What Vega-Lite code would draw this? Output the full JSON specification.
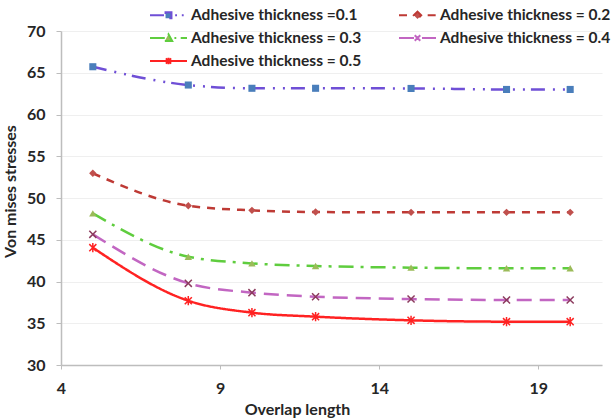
{
  "$schema": "https://vega.github.io/schema/vega-lite/v6.json",
  "width": 541,
  "height": 334,
  "autosize": {"type": "none"},
  "padding": {"left": 61, "top": 31, "right": 13, "bottom": 55},
  "background": "white",
  "config": {
    "view": {"stroke": null},
    "font": "Lato"
  },
  "data": {
    "values": [
      {"series": "Adhesive thickness =0.1", "overlap": 5, "stress": 65.72},
      {"series": "Adhesive thickness =0.1", "overlap": 8, "stress": 63.53},
      {"series": "Adhesive thickness =0.1", "overlap": 10, "stress": 63.14},
      {"series": "Adhesive thickness =0.1", "overlap": 12, "stress": 63.14},
      {"series": "Adhesive thickness =0.1", "overlap": 15, "stress": 63.12},
      {"series": "Adhesive thickness =0.1", "overlap": 18, "stress": 63.0},
      {"series": "Adhesive thickness =0.1", "overlap": 20, "stress": 63.0},
      {"series": "Adhesive thickness = 0.2", "overlap": 5, "stress": 52.96},
      {"series": "Adhesive thickness = 0.2", "overlap": 8, "stress": 49.08},
      {"series": "Adhesive thickness = 0.2", "overlap": 10, "stress": 48.52},
      {"series": "Adhesive thickness = 0.2", "overlap": 12, "stress": 48.32},
      {"series": "Adhesive thickness = 0.2", "overlap": 15, "stress": 48.28},
      {"series": "Adhesive thickness = 0.2", "overlap": 18, "stress": 48.28},
      {"series": "Adhesive thickness = 0.2", "overlap": 20, "stress": 48.28},
      {"series": "Adhesive thickness = 0.3", "overlap": 5, "stress": 48.16},
      {"series": "Adhesive thickness = 0.3", "overlap": 8, "stress": 42.97},
      {"series": "Adhesive thickness = 0.3", "overlap": 10, "stress": 42.17},
      {"series": "Adhesive thickness = 0.3", "overlap": 12, "stress": 41.86},
      {"series": "Adhesive thickness = 0.3", "overlap": 15, "stress": 41.66},
      {"series": "Adhesive thickness = 0.3", "overlap": 18, "stress": 41.58},
      {"series": "Adhesive thickness = 0.3", "overlap": 20, "stress": 41.58},
      {"series": "Adhesive thickness = 0.4", "overlap": 5, "stress": 45.65},
      {"series": "Adhesive thickness = 0.4", "overlap": 8, "stress": 39.78},
      {"series": "Adhesive thickness = 0.4", "overlap": 10, "stress": 38.66},
      {"series": "Adhesive thickness = 0.4", "overlap": 12, "stress": 38.18},
      {"series": "Adhesive thickness = 0.4", "overlap": 15, "stress": 37.9},
      {"series": "Adhesive thickness = 0.4", "overlap": 18, "stress": 37.78},
      {"series": "Adhesive thickness = 0.4", "overlap": 20, "stress": 37.78},
      {"series": "Adhesive thickness = 0.5", "overlap": 5, "stress": 44.05},
      {"series": "Adhesive thickness = 0.5", "overlap": 8, "stress": 37.7},
      {"series": "Adhesive thickness = 0.5", "overlap": 10, "stress": 36.27},
      {"series": "Adhesive thickness = 0.5", "overlap": 12, "stress": 35.79},
      {"series": "Adhesive thickness = 0.5", "overlap": 15, "stress": 35.35},
      {"series": "Adhesive thickness = 0.5", "overlap": 18, "stress": 35.19},
      {"series": "Adhesive thickness = 0.5", "overlap": 20, "stress": 35.19}
    ]
  },
  "encoding": {
    "x": {
      "field": "overlap",
      "type": "quantitative",
      "scale": {"domain": [4, 21], "nice": false, "zero": false},
      "axis": {
        "title": "Overlap length",
        "values": [4, 9, 14, 19],
        "grid": false,
        "domainColor": "#bdbdbd",
        "domainWidth": 1.5,
        "tickColor": "#bdbdbd",
        "tickSize": 4,
        "labelPadding": 11,
        "labelFont": "Lato",
        "labelFontSize": 16,
        "labelFontWeight": "bold",
        "labelColor": "#262626",
        "labelFlush": false,
        "titleFont": "Lato",
        "titleFontSize": 16,
        "titleFontWeight": "bold",
        "titleColor": "#262626",
        "titleX": 236,
        "titleY": 44,
        "titleBaseline": "middle",
        "titleAlign": "center"
      }
    },
    "y": {
      "field": "stress",
      "type": "quantitative",
      "scale": {"domain": [30, 70], "nice": false, "zero": false},
      "axis": {
        "title": "Von mises stresses",
        "values": [30, 35, 40, 45, 50, 55, 60, 65, 70],
        "grid": true,
        "gridColor": "#efefef",
        "gridWidth": 1,
        "domainColor": "#bdbdbd",
        "domainWidth": 1.5,
        "tickColor": "#bdbdbd",
        "tickSize": 5,
        "labelPadding": 11,
        "labelFont": "Lato",
        "labelFontSize": 16,
        "labelFontWeight": "bold",
        "labelColor": "#262626",
        "labelFlush": false,
        "titleFont": "Lato",
        "titleFontSize": 16,
        "titleFontWeight": "bold",
        "titleColor": "#262626",
        "titleX": -51,
        "titleY": 160,
        "titleAngle": -90,
        "titleBaseline": "middle",
        "titleAlign": "center"
      }
    }
  },
  "layer": [
    {
      "mark": {"type": "line", "interpolate": "monotone", "strokeWidth": 2.5},
      "encoding": {
        "color": {
          "field": "series",
          "type": "nominal",
          "scale": {
            "domain": ["Adhesive thickness =0.1", "Adhesive thickness = 0.2", "Adhesive thickness = 0.3", "Adhesive thickness = 0.4", "Adhesive thickness = 0.5"],
            "range": ["#6f4fd6", "#be3a35", "#5fcd3e", "#c266c2", "#ff2222"]
          },
          "legend": {
            "title": null,
            "orient": "none",
            "direction": "horizontal",
            "legendX": 88,
            "legendY": -24,
            "columns": 2,
            "columnPadding": 36,
            "rowPadding": 6,
            "clipHeight": 16,
            "padding": 0,
            "symbolSize": 1369,
            "symbolStrokeWidth": 2,
            "symbolOffset": 0,
            "labelOffset": 3,
            "labelFont": "Lato",
            "labelFontSize": 15.5,
            "labelFontWeight": "bold",
            "labelColor": "#262626",
            "labelLimit": 300,
            "encode": {
              "symbols": {
                "update": {
                  "shape": {"signal": "datum.value == 'Adhesive thickness =0.1' ? 'M-1,0L-0.16,0M0.36,0L0.46,0M0.72,0L0.82,0M-0.16,-0.16L0.16,-0.16L0.16,0.16L-0.16,0.16Z' : datum.value == 'Adhesive thickness = 0.2' ? 'M-1,0L-0.55,0M0.55,0L1,0M0,-0.2L0.2,0L0,0.2L-0.2,0Z' : datum.value == 'Adhesive thickness = 0.3' ? 'M-1,0L-0.2,0M0.32,0L0.42,0M0.66,0L1,0M0,-0.2L0.2,0.16L-0.2,0.16Z' : datum.value == 'Adhesive thickness = 0.4' ? 'M-1,0L1,0M-0.15,-0.15L0.15,0.15M-0.15,0.15L0.15,-0.15' : 'M-1,0L1,0M-0.14,-0.14L0.14,0.14M-0.14,0.14L0.14,-0.14M0,-0.18L0,0.18'"},
                  "fill": {"signal": "datum.value == 'Adhesive thickness =0.1' ? '#4a7ebb' : datum.value == 'Adhesive thickness = 0.2' ? '#c0504d' : datum.value == 'Adhesive thickness = 0.3' ? '#9bbb59' : 'transparent'"},
                  "size": {"value": 1369},
                  "strokeWidth": {"value": 2},
                  "strokeDash": {"value": [1, 0]},
                  "opacity": {"value": 1}
                }
              }
            }
          }
        },
        "strokeDash": {
          "field": "series",
          "type": "nominal",
          "scale": {
            "domain": ["Adhesive thickness =0.1", "Adhesive thickness = 0.2", "Adhesive thickness = 0.3", "Adhesive thickness = 0.4", "Adhesive thickness = 0.5"],
            "range": [[14, 8, 2, 8, 2, 6], [8, 7], [15, 7, 3, 7], [15, 8], [1, 0]]
          },
          "legend": null
        }
      }
    },
    {
      "transform": [{"filter": {"field": "series", "equal": "Adhesive thickness =0.1"}}],
      "mark": {"type": "point", "shape": "square", "filled": true, "color": "#4a7ebb", "size": 50, "opacity": 1}
    },
    {
      "transform": [{"filter": {"field": "series", "equal": "Adhesive thickness = 0.2"}}],
      "mark": {"type": "point", "shape": "diamond", "filled": true, "color": "#c0504d", "size": 55, "opacity": 1}
    },
    {
      "transform": [{"filter": {"field": "series", "equal": "Adhesive thickness = 0.3"}}],
      "mark": {"type": "point", "shape": "triangle-up", "filled": true, "color": "#9bbb59", "size": 55, "opacity": 1}
    },
    {
      "transform": [{"filter": {"field": "series", "equal": "Adhesive thickness = 0.4"}}],
      "mark": {"type": "point", "shape": "M-1,-1L1,1M-1,1L1,-1", "filled": false, "color": "#8c3b5e", "strokeWidth": 1.5, "size": 50, "opacity": 1}
    },
    {
      "transform": [{"filter": {"field": "series", "equal": "Adhesive thickness = 0.5"}}],
      "mark": {"type": "point", "shape": "M-1,-1L1,1M-1,1L1,-1M0,-1.3L0,1.3", "filled": false, "color": "#ff2222", "strokeWidth": 1.5, "size": 50, "opacity": 1}
    }
  ]
}
